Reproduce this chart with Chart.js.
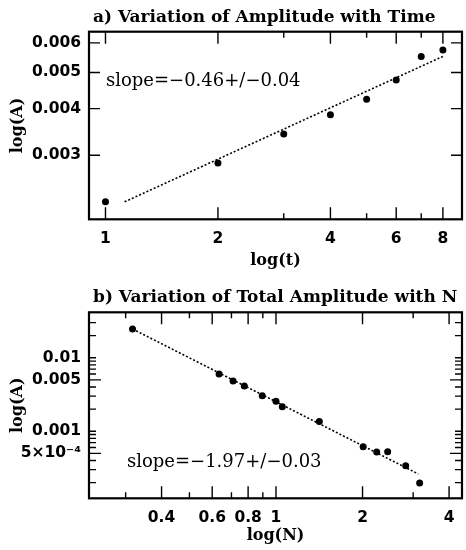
<!DOCTYPE html>
<html>
<head>
<meta charset="utf-8">
<script src="https://cdn.jsdelivr.net/npm/chart.js@4"></script>
<style>
  body { margin: 0; background: #fff; }
  .panel { position: relative; width: 466px; height: 275px; }
</style>
</head>
<body>
<div class="panel"><canvas id="chartA"></canvas></div>
<div class="panel"><canvas id="chartB"></canvas></div>
<script>
// a) amplitude vs time
const timeVals = [1, 2, 3, 4, 5, 6, 7, 8];
const ampVals = [0.00225, 0.00286, 0.00342, 0.00385, 0.00424, 0.00477, 0.00552, 0.00574];
const fitTimeA = [1.125, 8];
const fitAmpA = [0.00225, 0.00552];
const xTicksA = [1, 2, 4, 6, 8];
const xMinorA = [3, 5, 7];
const yTicksA = [0.003, 0.004, 0.005, 0.006];
const yLabelsA = ['0.003', '0.004', '0.005', '0.006'];

// b) total amplitude vs N
const nVals = [0.317, 0.634, 0.709, 0.776, 0.896, 1.0, 1.052, 1.415, 2.01, 2.24, 2.446, 2.826, 3.16];
const totAmpVals = [0.0246, 0.0060, 0.00482, 0.00412, 0.00304, 0.00255, 0.00216, 0.00136,
                    0.000615, 0.000521, 0.000524, 0.000339, 0.000197];
const fitNB = [0.317, 3.126];
const fitAmpB = [0.0246, 0.000262];
const xTicksB = [0.4, 0.6, 0.8, 1, 2, 4];
const xMinorB = [0.3, 0.5, 0.7, 0.9, 3];
const yTicksB = [0.0005, 0.001, 0.005, 0.01];
const yLabelsB = ['5×10⁻⁴', '0.001', '0.005', '0.01'];
const yLongB = [0.0005, 0.005];
const yShortB = [0.0002, 0.0003, 0.0004, 0.0006, 0.0007, 0.0008, 0.0009, 0.001,
                 0.002, 0.003, 0.004, 0.006, 0.007, 0.008, 0.009, 0.01, 0.02, 0.03];

const tickFont = { family: 'DejaVu Sans', weight: 'bold', size: 15.5 };
const labelFont = { family: 'DejaVu Serif', weight: 'bold', size: 16 };

// frame, inward ticks, title and slope note
const framePlugin = {
  id: 'frame',
  afterDraw(chart, args, o) {
    const { ctx, chartArea: a, scales: { x, y } } = chart;
    ctx.save();
    ctx.strokeStyle = '#000';
    ctx.lineWidth = 1.4;
    function xt(vals, len) {
      vals.forEach(v => {
        const px = x.getPixelForValue(v);
        ctx.beginPath();
        ctx.moveTo(px, a.bottom); ctx.lineTo(px, a.bottom - len);
        ctx.moveTo(px, a.top); ctx.lineTo(px, a.top + len);
        ctx.stroke();
      });
    }
    function yt(vals, len) {
      vals.forEach(v => {
        const py = y.getPixelForValue(v);
        ctx.beginPath();
        ctx.moveTo(a.left, py); ctx.lineTo(a.left + len, py);
        ctx.moveTo(a.right, py); ctx.lineTo(a.right - len, py);
        ctx.stroke();
      });
    }
    xt(o.xMajor, 12);
    xt(o.xMinor, 6);
    yt(o.yMajor, o.yMajorLen);
    yt(o.yMinor, 7);
    ctx.lineWidth = 2.2;
    ctx.strokeRect(a.left, a.top, a.right - a.left, a.bottom - a.top);

    ctx.fillStyle = '#000';
    ctx.font = 'bold 17px "DejaVu Serif"';
    ctx.textBaseline = 'alphabetic';
    ctx.textAlign = 'left';
    ctx.fillText(o.title, a.left + 4, a.top - 10);

    ctx.font = '18px "DejaVu Serif"';
    ctx.textBaseline = 'middle';
    ctx.fillText(o.note, a.left + o.noteDx, o.noteFromBottom ? a.bottom - o.noteDy : a.top + o.noteDy);
    ctx.restore();
  }
};

function makeChart(id, pts, fit, xr, yr, xTicks, yTicks, yLabels, xTitle, frame, pad, xh) {
  return new Chart(document.getElementById(id), {
    type: 'scatter',
    data: {
      datasets: [
        {
          data: fit,
          showLine: true,
          borderColor: '#000',
          borderWidth: 1.6,
          borderDash: [2, 2],
          pointRadius: 0,
          fill: false
        },
        {
          data: pts,
          pointRadius: 3.5,
          pointBackgroundColor: '#000',
          pointBorderWidth: 0
        }
      ]
    },
    options: {
      responsive: true,
      maintainAspectRatio: false,
      animation: false,
      devicePixelRatio: 1,
      layout: { padding: pad },
      plugins: { legend: { display: false }, tooltip: { enabled: false }, frame: frame },
      scales: {
        x: {
          type: 'logarithmic',
          min: xr[0], max: xr[1],
          grid: { display: false, drawTicks: false },
          border: { display: false },
          afterBuildTicks: s => { s.ticks = xTicks.map(v => ({ value: v })); },
          afterFit: s => { s.height = xh; },
          ticks: {
            autoSkip: false, maxRotation: 0, minRotation: 0, padding: 10,
            color: '#000', font: tickFont,
            callback: v => String(v)
          },
          title: { display: true, text: xTitle, color: '#000', font: labelFont, padding: { top: 0, bottom: 5 } }
        },
        y: {
          type: 'logarithmic',
          min: yr[0], max: yr[1],
          grid: { display: false, drawTicks: false },
          border: { display: false },
          afterBuildTicks: s => { s.ticks = yTicks.map(v => ({ value: v })); },
          afterFit: s => { s.width = 89; },
          ticks: {
            autoSkip: false, padding: 8,
            color: '#000', font: tickFont,
            callback: (v, i) => yLabels[i]
          },
          title: { display: true, text: 'log(A)', color: '#000', font: labelFont, padding: { top: 8, bottom: 0 } }
        }
      }
    },
    plugins: [framePlugin]
  });
}

makeChart('chartA',
  timeVals.map((t, i) => ({ x: t, y: ampVals[i] })),
  fitTimeA.map((t, i) => ({ x: t, y: fitAmpA[i] })),
  [0.9034, 9.0], [0.00202, 0.00643],
  xTicksA, yTicksA, yLabelsA, 'log(t)',
  { title: 'a) Variation of Amplitude with Time', note: 'slope=−0.46+/−0.04',
    noteDx: 17, noteDy: 50, noteFromBottom: false,
    xMajor: xTicksA, xMinor: xMinorA, yMajor: yTicksA, yMajorLen: 11, yMinor: [] },
  { top: 31.7, right: 3.5, left: 0, bottom: 0 }, 55.7);

makeChart('chartB',
  nVals.map((n, i) => ({ x: n, y: totAmpVals[i] })),
  fitNB.map((n, i) => ({ x: n, y: fitAmpB[i] })),
  [0.2237, 4.436], [0.0001222, 0.0415],
  xTicksB, yTicksB, yLabelsB, 'log(N)',
  { title: 'b) Variation of Total Amplitude with N', note: 'slope=−1.97+/−0.03',
    noteDx: 38, noteDy: 36, noteFromBottom: true,
    xMajor: xTicksB, xMinor: xMinorB, yMajor: yLongB, yMajorLen: 12, yMinor: yShortB },
  { top: 37.3, right: 4, left: 0, bottom: 0 }, 51.7);
</script>
</body>
</html>
